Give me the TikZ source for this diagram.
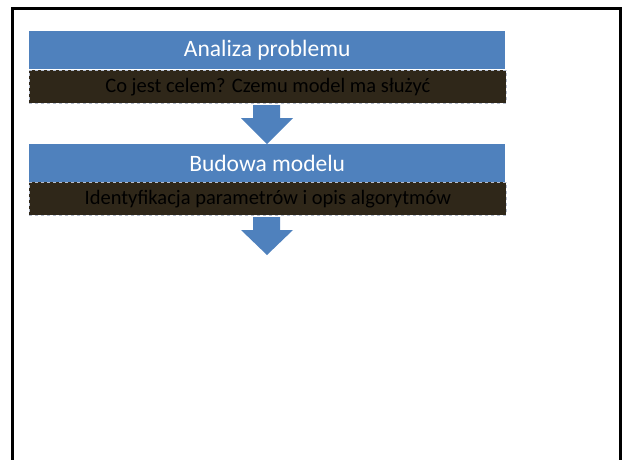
\documentclass[tikz,border=0pt]{standalone}
\usepackage{fontspec}
\setmainfont{Carlito}
\definecolor{boxblue}{HTML}{4F81BD}
\definecolor{boxdark}{HTML}{2F2719}
\definecolor{dashgrey}{HTML}{B4BCCC}
\begin{document}
\begin{tikzpicture}[x=1pt,y=-1pt,
  titlebox/.style={fill=boxblue,draw=none,minimum width=476pt,minimum height=38pt,inner sep=0pt,text=white,font=\fontsize{23.5}{26}\selectfont,anchor=north west},
  descbox/.style={fill=boxdark,draw=dashgrey,dashed,line width=0.6pt,minimum width=477pt,minimum height=33pt,inner sep=0pt,text=black,font=\fontsize{20.5}{23}\selectfont,anchor=north west},
  blockarrow/.style={fill=boxblue,draw=none}]
\useasboundingbox (0,0) rectangle (622,459);
\draw[line width=3pt] (12,470) -- (12,8.5) -- (620,8.5) -- (620,470);
\node[titlebox] (t1) at (29,31) {Analiza problemu};
\node[descbox] (d1) at (29,70) {Co jest celem? Czemu model ma służyć};
\node[titlebox] (t2) at (29,144) {Budowa modelu};
\node[descbox] (d2) at (29,182) {Identyfikacja parametrów i opis algorytmów};
\fill[blockarrow] (253,105) -- (280,105) -- (280,118) -- (293,118) -- (t2.north -| 267,0) -- (241,118) -- (253,118) -- cycle;
\coordinate (tip2) at (267,255);
\fill[blockarrow] (253,217) -- (280,217) -- (280,230) -- (293,230) -- (tip2) -- (241,230) -- (253,230) -- cycle;
\end{tikzpicture}
\end{document}
